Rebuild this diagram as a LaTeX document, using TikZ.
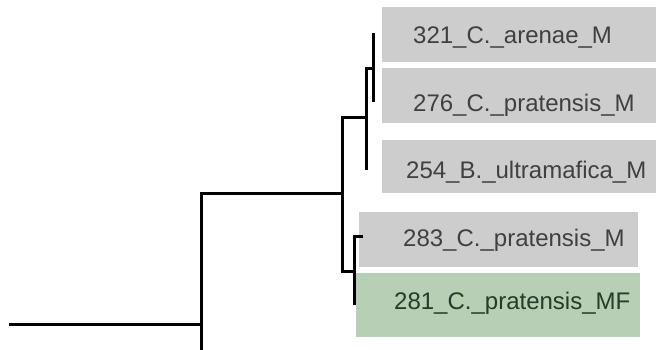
\documentclass[tikz,border=0pt]{standalone}
\usepackage{fontspec}
\setmainfont{Liberation Sans}
\definecolor{boxgray}{RGB}{205,205,205}
\definecolor{boxgreen}{RGB}{182,207,181}
\definecolor{txtgray}{RGB}{64,64,64}
\definecolor{txtgreen}{RGB}{40,58,40}
\begin{document}
\begin{tikzpicture}[x=1pt,y=-1pt,
  branch/.style={line width=3pt,black},
  leaflabel/.style={anchor=base west,inner sep=0pt,font=\fontsize{24}{28}\selectfont}]
\useasboundingbox (0,0) rectangle (656,349);
% label boxes
\fill[boxgray] (382,7) rectangle (656,62);
\fill[boxgray] (382,68) rectangle (656,123);
\fill[boxgray] (382,140) rectangle (656,193);
\fill[boxgray] (359,212) rectangle (638,267);
\fill[boxgreen] (356,273) rectangle (640,337);
% labels
\node[leaflabel,text=txtgray] (t321) at (413,43) {321\_C.\_arenae\_M};
\node[leaflabel,text=txtgray] (t276) at (413,111) {276\_C.\_pratensis\_M};
\node[leaflabel,text=txtgray] (t254) at (406,178) {254\_B.\_ultramafica\_M};
\node[leaflabel,text=txtgray] (t283) at (403,246) {283\_C.\_pratensis\_M};
\node[leaflabel,text=txtgreen] (t281) at (394,309) {281\_C.\_pratensis\_MF};
% tree coordinates
\coordinate (r) at (9,324);
\coordinate (A) at (201,324);
\coordinate (Abot) at (201,352);
\coordinate (B) at (342,193);
\coordinate (C) at (366,117);
\coordinate (D) at (373,68);
\coordinate (E) at (354,271);
\coordinate (L321) at (373,33);
\coordinate (L276) at (373,102);
\coordinate (L254) at (366,170);
\coordinate (L283) at (363,236);
\coordinate (L281) at (354,305);
% branches
\draw[branch] (r) -- (A);
\draw[branch] (Abot) |- (B);
\draw[branch] (C) -| (B) |- (E);
\draw[branch] (D) -| (C) -- (L254);
\draw[branch] (L321) -- (L276);
\draw[branch] (L283) -| (E) -- (L281);
\end{tikzpicture}
\end{document}
